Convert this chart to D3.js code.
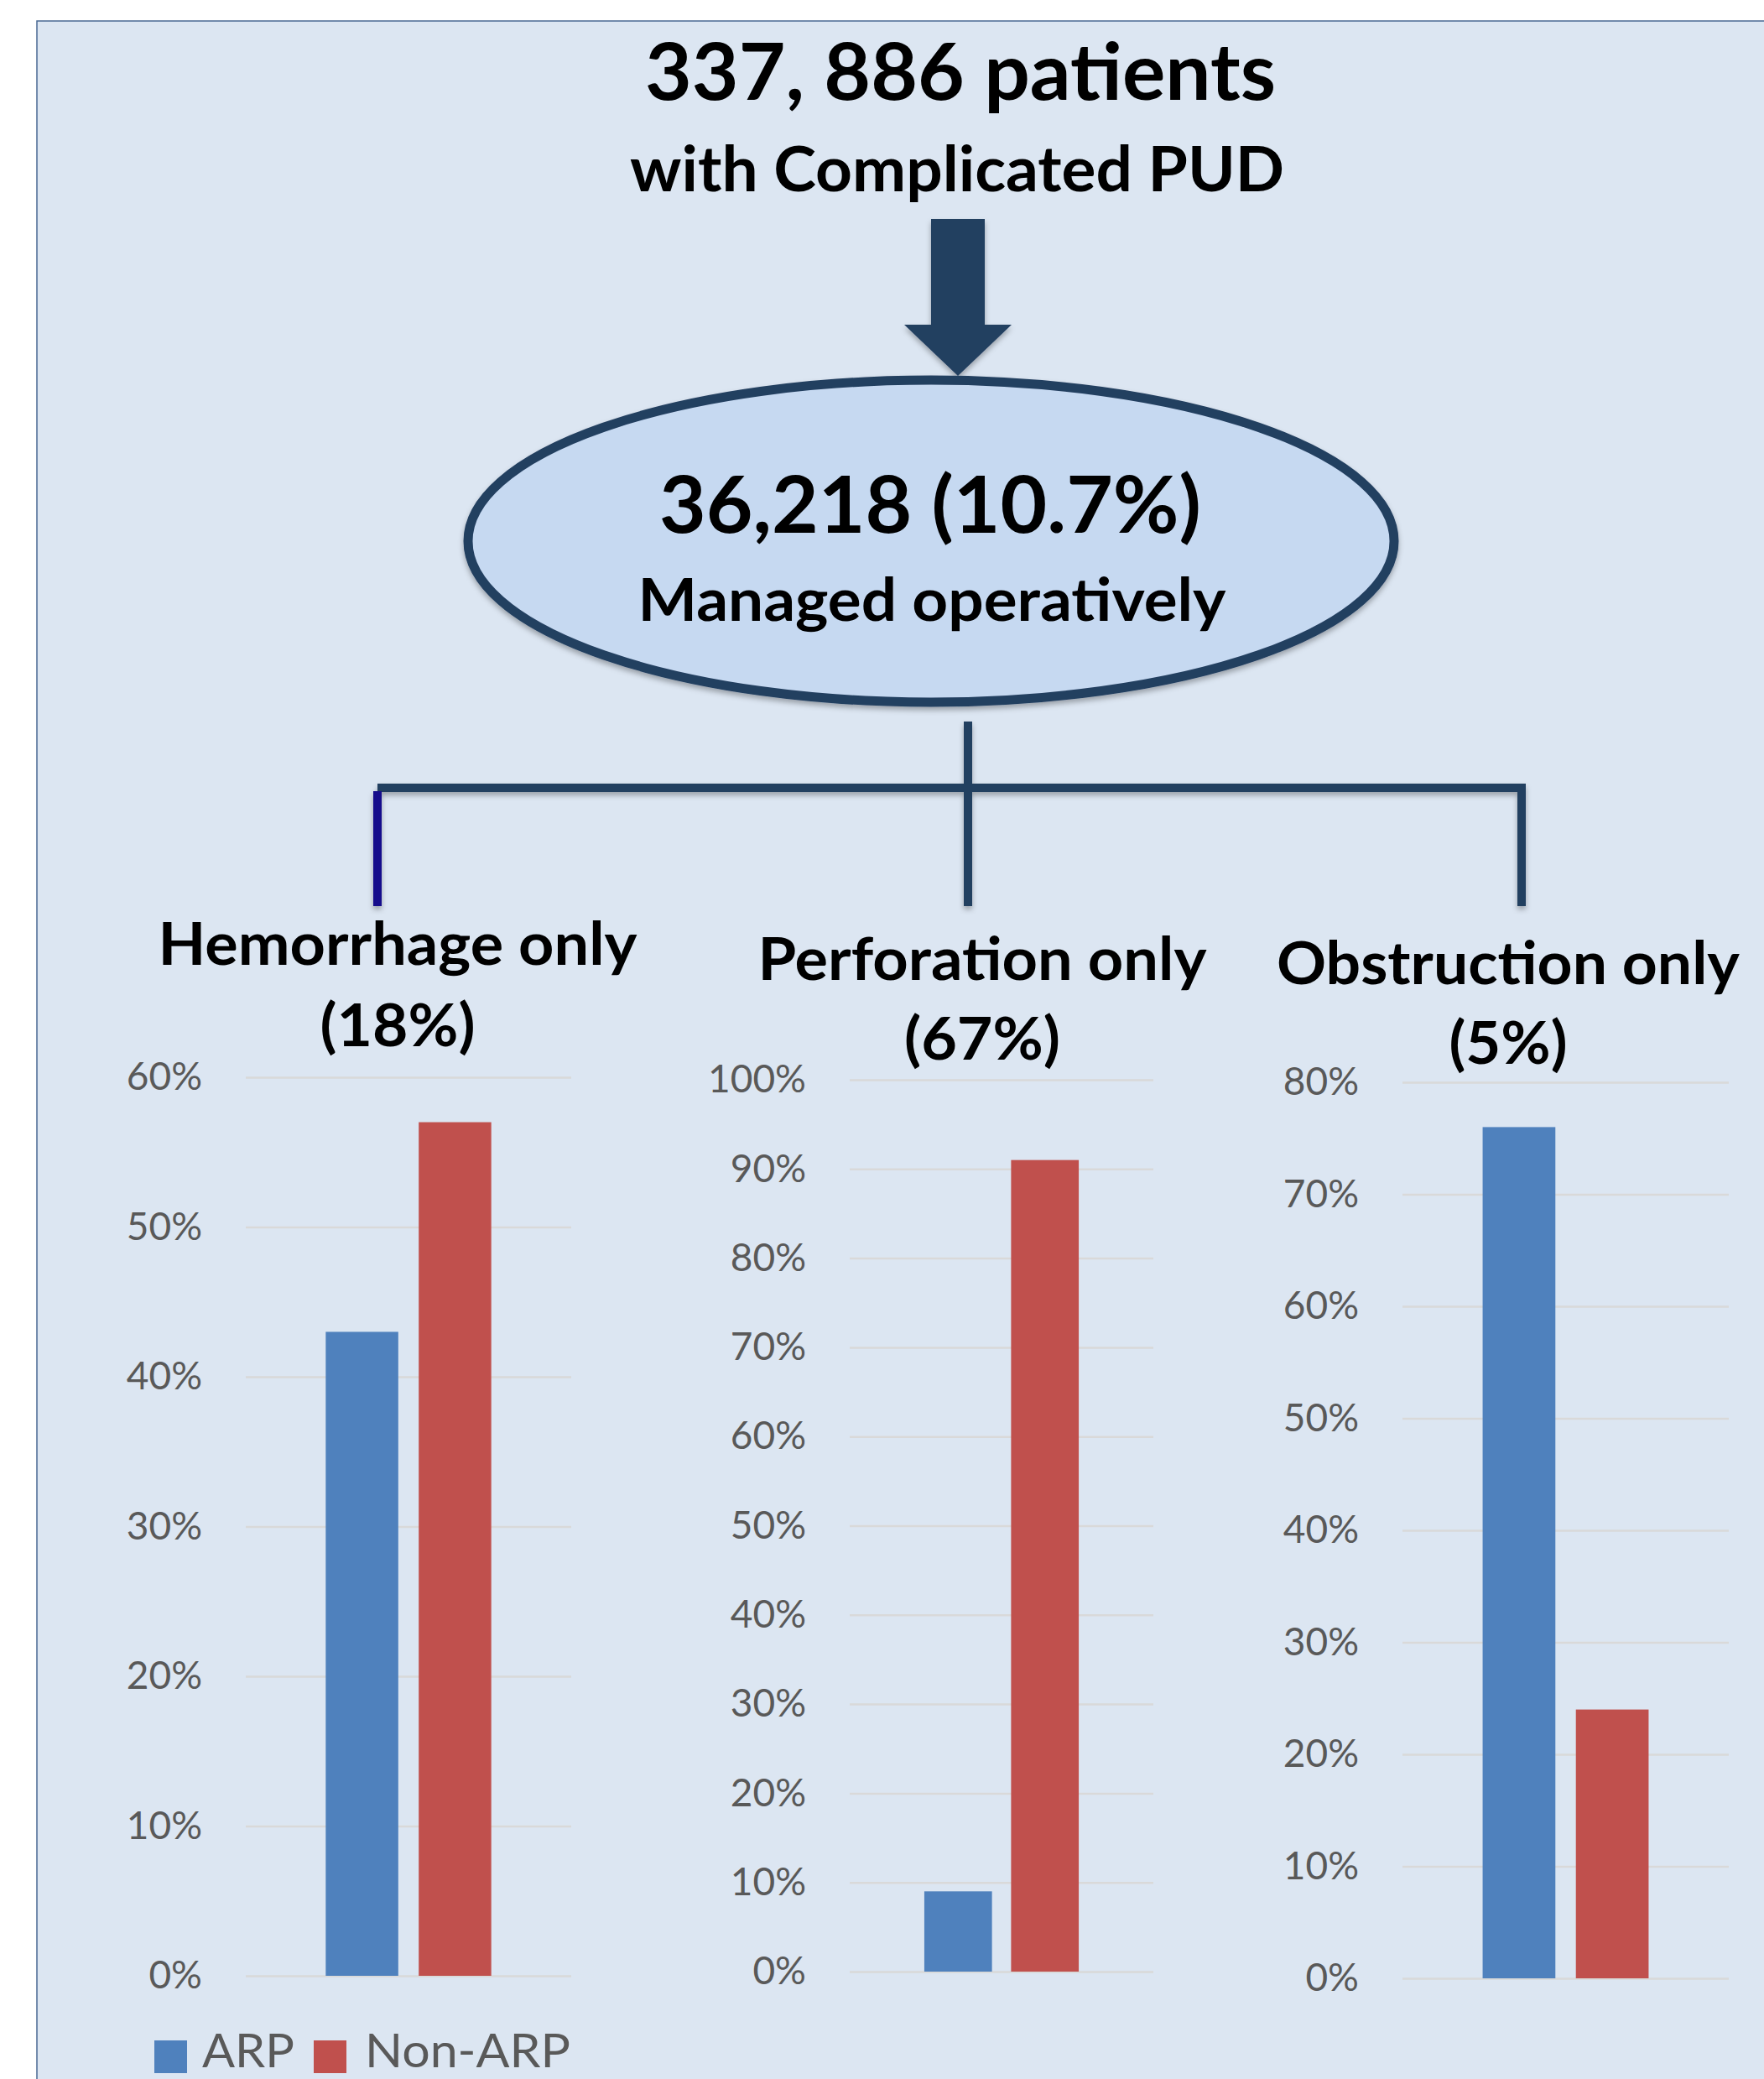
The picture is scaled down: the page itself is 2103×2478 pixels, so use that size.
<!DOCTYPE html>
<html>
<head>
<meta charset="utf-8">
<script src="https://cdn.jsdelivr.net/npm/d3@7/dist/d3.min.js"></script>
<style>
  html, body { margin: 0; padding: 0; background: #ffffff; }
  svg { display: block; }
</style>
</head>
<body>
<svg id="chart" width="2103" height="2478"></svg>
<script>
// ---- Data ----
const headline = ["337, 886 patients", "with Complicated PUD"];
const operative = ["36,218 (10.7%)", "Managed operatively"];
const categories = ["Hemorrhage only", "Perforation only", "Obstruction only"];
const categoryShares = ["(18%)", "(67%)", "(5%)"];
const seriesNames = ["ARP", "Non-ARP"];
const arpValues = [43, 9, 76];
const nonArpValues = [57, 91, 24];
const axisMaxima = [60, 100, 80];
const tickStep = 10;

// ---- Layout & style ----
const W = 2103, H = 2478;
const bg = "#DCE6F2", navy = "#243F60", ellipseFill = "#C6D9F1";
const seriesColors = ["#4F81BD", "#C0504D"];
const font = "Lato, 'Open Sans', sans-serif";

const frames = [
  { left: 293,  right: 681,  top: 1284, bottom: 2355, cx: 474,  titleY: 1150, shareY: 1247, titleW: 571, shareW: 185 },
  { left: 1013, right: 1375, top: 1287, bottom: 2350, cx: 1171, titleY: 1168, shareY: 1263, titleW: 535, shareW: 186 },
  { left: 1672, right: 2061, top: 1290, bottom: 2358, cx: 1798, titleY: 1173, shareY: 1268, titleW: 552, shareW: 141 }
];

const svg = d3.select("#chart");
const defs = svg.append("defs");
const shadow = defs.append("filter").attr("id", "shadow")
  .attr("x", "-20%").attr("y", "-20%").attr("width", "140%").attr("height", "140%");
shadow.append("feDropShadow").attr("dx", 0).attr("dy", 4).attr("stdDeviation", 3)
  .attr("flood-color", "#000").attr("flood-opacity", 0.3);

// Panel background with thin border on the top and left edges
svg.append("rect").attr("x", 0).attr("y", 0).attr("width", W).attr("height", H).attr("fill", "#fff");
svg.append("rect").attr("x", 44).attr("y", 25).attr("width", W - 44).attr("height", H - 25).attr("fill", bg);
svg.append("path").attr("d", `M44,${H} V25 H${W}`).attr("fill", "none")
  .attr("stroke", "#4A6A94").attr("stroke-width", 1.5);

function heading(text, x, y, size, width) {
  svg.append("text")
    .attr("x", x).attr("y", y)
    .attr("text-anchor", "middle")
    .attr("font-family", font).attr("font-weight", 700)
    .attr("font-size", size)
    .attr("textLength", width).attr("lengthAdjust", "spacingAndGlyphs")
    .attr("fill", "#000")
    .text(text);
}

// Headline
heading(headline[0], 1145, 119, 94, 752);
heading(headline[1], 1141, 228, 75, 780);

// Down arrow
svg.append("path")
  .attr("d", "M1110,261 H1174 V387 H1206 L1142,448 L1078,387 H1110 Z")
  .attr("fill", navy).attr("filter", "url(#shadow)");

// Ellipse node
svg.append("ellipse")
  .attr("cx", 1110).attr("cy", 645).attr("rx", 552).attr("ry", 192)
  .attr("fill", ellipseFill).attr("stroke", navy).attr("stroke-width", 11)
  .attr("filter", "url(#shadow)");
heading(operative[0], 1109, 635, 94, 646);
heading(operative[1], 1111, 740, 71, 701);

// Connector tree
const tree = svg.append("g").attr("filter", "url(#shadow)")
  .attr("stroke-width", 10).attr("fill", "none").attr("stroke-linecap", "butt");
tree.append("path").attr("d", "M450,939 H1819").attr("stroke", navy);
tree.append("path").attr("d", "M1154,860 V1080").attr("stroke", navy);
tree.append("path").attr("d", "M1814,939 V1080").attr("stroke", navy);
tree.append("path").attr("d", "M450,943 V1080").attr("stroke", "#140A8C");

// Bar charts, one per complication type
categories.forEach((cat, i) => {
  const f = frames[i];
  const values = [arpValues[i], nonArpValues[i]];

  heading(cat, f.cx, f.titleY, 71, f.titleW);
  heading(categoryShares[i], f.cx, f.shareY, 71, f.shareW);

  const y = d3.scaleLinear().domain([0, axisMaxima[i]]).range([f.bottom, f.top]);
  const xGroup = d3.scaleBand().domain([cat]).range([f.left, f.right]).paddingOuter(0.483);
  const xSeries = d3.scaleBand().domain(seriesNames)
    .range([xGroup(cat), xGroup(cat) + xGroup.bandwidth()]).paddingInner(0.22);

  const axis = svg.append("g")
    .attr("transform", `translate(${f.left},0)`)
    .call(d3.axisLeft(y)
      .tickValues(d3.range(0, axisMaxima[i] + 1, tickStep))
      .tickFormat(d => d + "%")
      .tickSize(-(f.right - f.left))
      .tickPadding(52));
  axis.select(".domain").remove();
  axis.selectAll(".tick line").attr("stroke", "#D9D9D9").attr("stroke-width", 2.5);
  axis.selectAll(".tick text")
    .attr("font-family", font).attr("font-size", 46).attr("fill", "#595959");

  svg.append("g").selectAll("rect")
    .data(values)
    .join("rect")
    .attr("x", (d, j) => xSeries(seriesNames[j]))
    .attr("width", xSeries.bandwidth())
    .attr("y", d => y(d))
    .attr("height", d => y(0) - y(d))
    .attr("fill", (d, j) => seriesColors[j]);
});

// Legend
const legendItems = [
  { name: seriesNames[0], sx: 184, tx: 241, tw: 110 },
  { name: seriesNames[1], sx: 374, tx: 435, tw: 245 }
];
const legend = svg.append("g");
legendItems.forEach((it, j) => {
  legend.append("rect").attr("x", it.sx).attr("y", 2432).attr("width", 39).attr("height", 39)
    .attr("fill", seriesColors[j]);
  legend.append("text").attr("x", it.tx).attr("y", 2464)
    .attr("font-family", font).attr("font-size", 56).attr("fill", "#595959")
    .attr("textLength", it.tw).attr("lengthAdjust", "spacingAndGlyphs")
    .text(it.name);
});
</script>
</body>
</html>
